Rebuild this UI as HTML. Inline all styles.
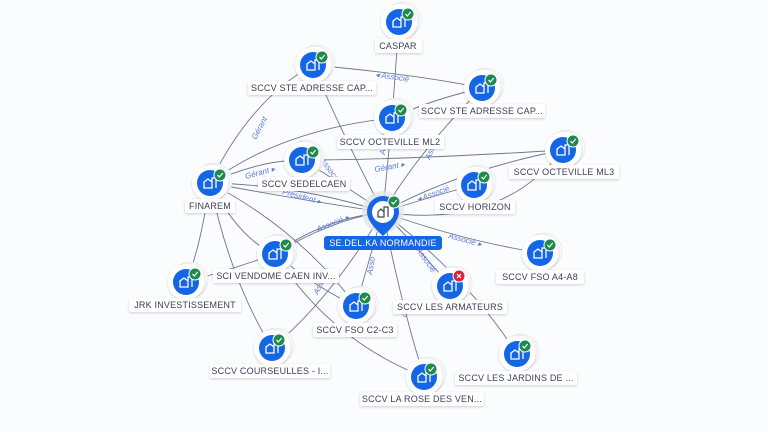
<!DOCTYPE html>
<html><head><meta charset="utf-8"><style>
html,body{margin:0;padding:0;background:#fbfcfe;}
svg{display:block}
text{font-family:"Liberation Sans",sans-serif;}
.l{font-size:9px;fill:#3b4058;text-anchor:middle;letter-spacing:0.2px}
.e{fill:none;stroke:#6e7590;stroke-width:0.9}
.el{font-size:8px;fill:#5a7be0;font-style:italic}
</style></head><body>
<svg width="768" height="432" viewBox="0 0 768 432" xmlns="http://www.w3.org/2000/svg">
<defs>
<filter id="sh" x="-50%" y="-50%" width="200%" height="200%"><feDropShadow dx="0" dy="1" stdDeviation="1.2" flood-color="#000" flood-opacity="0.18"/></filter>
<g id="n">
<circle cx="4" cy="-2" r="18" fill="#fff" stroke="#e4e6ec" stroke-width="0.8"/>
<circle cx="2" cy="-1" r="18" fill="#fff" stroke="#e4e6ec" stroke-width="0.8"/>
<circle cx="0" cy="0" r="18" fill="#fff" filter="url(#sh)"/>
<circle cx="0" cy="0" r="13" fill="#1466e6"/>
<path d="M-6 5 V-1 L-2 -4 L2 -1 V5 Z M2 5 V-5 H6 V5" fill="none" stroke="#fff" stroke-width="1.3"/>
</g>
<g id="ok"><circle r="6.5" fill="#fff"/><circle r="5.5" fill="#1f8a4c"/><path d="M-2.5 0 L-0.7 2 L2.7 -2" fill="none" stroke="#fff" stroke-width="1.2"/></g>
<g id="ko"><circle r="6.5" fill="#fff"/><circle r="5.5" fill="#d6263b"/><path d="M-2 -2 L2 2 M2 -2 L-2 2" fill="none" stroke="#fff" stroke-width="1.2"/></g>
</defs>

<!-- edges -->
<g class="e">
<path d="M399 22 L392 118"/>
<path d="M313 65 Q420 75 482 88"/>
<path d="M313 65 Q340 130 383 212"/>
<path d="M482 88 Q430 100 392 118"/>
<path d="M482 88 Q420 150 383 212"/>
<path d="M392 118 L383 212"/>
<path d="M302 160 Q345 185 383 212"/>
<path d="M563 150 Q460 170 383 212"/>
<path d="M563 150 Q400 160 302 160"/>
<path d="M474 185 Q420 200 383 212"/>
<path d="M210 183 Q300 185 383 212"/>
<path d="M210 183 Q280 130 392 118"/>
<path d="M210 183 Q250 100 313 65"/>
<path d="M210 183 Q260 160 302 160"/>
<path d="M210 183 Q300 200 383 212"/>
<path d="M210 183 Q240 240 275 254"/>
<path d="M210 183 Q230 280 272 348"/>
<path d="M210 183 Q300 230 356 306"/>
<path d="M210 183 Q200 250 186 282"/>
<path d="M383 212 Q460 240 540 253"/>
<path d="M383 212 Q330 220 275 254"/>
<path d="M275 254 Q320 220 383 212"/>
<path d="M186 282 Q230 270 275 254"/>
<path d="M383 212 Q420 250 450 286"/>
<path d="M383 212 L356 306"/>
<path d="M383 212 Q330 300 272 348"/>
<path d="M383 212 Q400 300 424 377"/>
<path d="M383 212 Q470 280 517 354"/>
<path d="M275 254 Q330 340 424 377"/>
<path d="M275 254 Q320 290 356 306"/>
<path d="M383 212 Q500 230 563 150"/>
</g>
<g class="el">
<text x="375" y="77" transform="rotate(8 375 77)">◂ Associé</text>
<text x="256" y="140" transform="rotate(-62 256 140)">Gérant</text>
<text x="246" y="179" transform="rotate(-15 246 179)">Gérant ▸</text>
<text x="282" y="194" transform="rotate(15 282 194)">Président ▸</text>
<text x="375" y="172" transform="rotate(-10 375 172)">Gérant ▸</text>
<text x="320" y="160" transform="rotate(55 320 160)">Associé</text>
<text x="385" y="155" transform="rotate(-85 385 155)">Associé</text>
<text x="430" y="160" transform="rotate(-70 430 160)">Asso</text>
<text x="418" y="202" transform="rotate(-20 418 202)">◂ Associé</text>
<text x="448" y="238" transform="rotate(15 448 238)">Associé ▸</text>
<text x="318" y="232" transform="rotate(-22 318 232)">Associé ▸</text>
<text x="372" y="275" transform="rotate(-80 372 275)">Asso</text>
<text x="400" y="300" transform="rotate(80 400 300)">Asso</text>
<text x="416" y="250" transform="rotate(55 416 250)">Associé</text>
<text x="318" y="295" transform="rotate(-65 318 295)">Associé</text>
<text x="236" y="270" transform="rotate(80 236 270)">Gér</text>
</g>

<!-- nodes -->
<g>
<use href="#n" x="399" y="22"/><use href="#ok" x="408" y="14"/>
<use href="#n" x="313" y="65"/><use href="#ok" x="322" y="57"/>
<use href="#n" x="482" y="88"/><use href="#ok" x="491" y="80"/>
<use href="#n" x="392" y="118"/><use href="#ok" x="401" y="110"/>
<use href="#n" x="302" y="160"/><use href="#ok" x="313" y="152"/>
<use href="#n" x="210" y="183"/><use href="#ok" x="220" y="175"/>
<use href="#n" x="563" y="150"/><use href="#ok" x="573" y="141"/>
<use href="#n" x="474" y="185"/><use href="#ok" x="484" y="177"/>
<use href="#n" x="540" y="253"/><use href="#ok" x="550" y="245"/>
<use href="#n" x="275" y="254"/><use href="#ok" x="286" y="245"/>
<use href="#n" x="186" y="282"/><use href="#ok" x="195" y="274"/>
<use href="#n" x="450" y="286"/><use href="#ko" x="459" y="276"/>
<use href="#n" x="356" y="306"/><use href="#ok" x="365" y="298"/>
<use href="#n" x="272" y="348"/><use href="#ok" x="279" y="340"/>
<use href="#n" x="517" y="354"/><use href="#ok" x="525" y="346"/>
<use href="#n" x="424" y="377"/><use href="#ok" x="431" y="369"/>
</g>
<!-- center -->
<g>
<circle cx="383" cy="212" r="21" fill="#e3e5ea" opacity="0.8"/>
<path d="M367 212 A16 16 0 1 1 399 212 Q399 222 383 236 Q367 222 367 212 Z" fill="#1466e6"/>
<circle cx="383" cy="212" r="11" fill="#fff"/>
<path d="M378 217 V212 L381 209 L384 212 V217 Z M384 217 V207 H388 V217" fill="none" stroke="#3b4058" stroke-width="1.2"/>
<use href="#ok" x="394" y="202"/>
</g>

<!-- labels -->
<g>
<rect x="375" y="39" width="47" height="14" rx="2" fill="#fff" filter="url(#sh)"/><text class="l" x="398" y="49">CASPAR</text>
<rect x="248" y="81" width="128" height="14" rx="2" fill="#fff" filter="url(#sh)"/><text class="l" x="312" y="91">SCCV STE ADRESSE CAP...</text>
<rect x="419" y="104" width="126" height="14" rx="2" fill="#fff" filter="url(#sh)"/><text class="l" x="482" y="114">SCCV STE ADRESSE CAP...</text>
<rect x="337" y="135" width="107" height="14" rx="2" fill="#fff" filter="url(#sh)"/><text class="l" x="390" y="145">SCCV OCTEVILLE ML2</text>
<rect x="258" y="177" width="92" height="14" rx="2" fill="#fff" filter="url(#sh)"/><text class="l" x="304" y="187">SCCV SEDELCAEN</text>
<rect x="185" y="199" width="50" height="14" rx="2" fill="#fff" filter="url(#sh)"/><text class="l" x="210" y="209">FINAREM</text>
<rect x="509" y="165" width="110" height="14" rx="2" fill="#fff" filter="url(#sh)"/><text class="l" x="564" y="175">SCCV OCTEVILLE ML3</text>
<rect x="435" y="200" width="80" height="14" rx="2" fill="#fff" filter="url(#sh)"/><text class="l" x="475" y="210">SCCV HORIZON</text>
<rect x="324" y="236" width="118" height="14" rx="3" fill="#1466e6"/><text class="l" x="383" y="246" style="fill:#fff">SE.DEL.KA NORMANDIE</text>
<rect x="496" y="270" width="88" height="14" rx="2" fill="#fff" filter="url(#sh)"/><text class="l" x="540" y="280">SCCV FSO A4-A8</text>
<rect x="213" y="269" width="126" height="14" rx="2" fill="#fff" filter="url(#sh)"/><text class="l" x="276" y="279">SCI VENDOME CAEN INV...</text>
<rect x="129" y="298" width="112" height="14" rx="2" fill="#fff" filter="url(#sh)"/><text class="l" x="185" y="308">JRK INVESTISSEMENT</text>
<rect x="393" y="300" width="114" height="14" rx="2" fill="#fff" filter="url(#sh)"/><text class="l" x="450" y="310">SCCV LES ARMATEURS</text>
<rect x="313" y="323" width="84" height="14" rx="2" fill="#fff" filter="url(#sh)"/><text class="l" x="355" y="333">SCCV FSO C2-C3</text>
<rect x="210" y="364" width="120" height="14" rx="2" fill="#fff" filter="url(#sh)"/><text class="l" x="270" y="374">SCCV COURSEULLES - I...</text>
<rect x="455" y="371" width="122" height="14" rx="2" fill="#fff" filter="url(#sh)"/><text class="l" x="516" y="381">SCCV LES JARDINS DE ...</text>
<rect x="360" y="392" width="124" height="14" rx="2" fill="#fff" filter="url(#sh)"/><text class="l" x="422" y="402">SCCV LA ROSE DES VEN...</text>
</g>
</svg>
</body></html>
